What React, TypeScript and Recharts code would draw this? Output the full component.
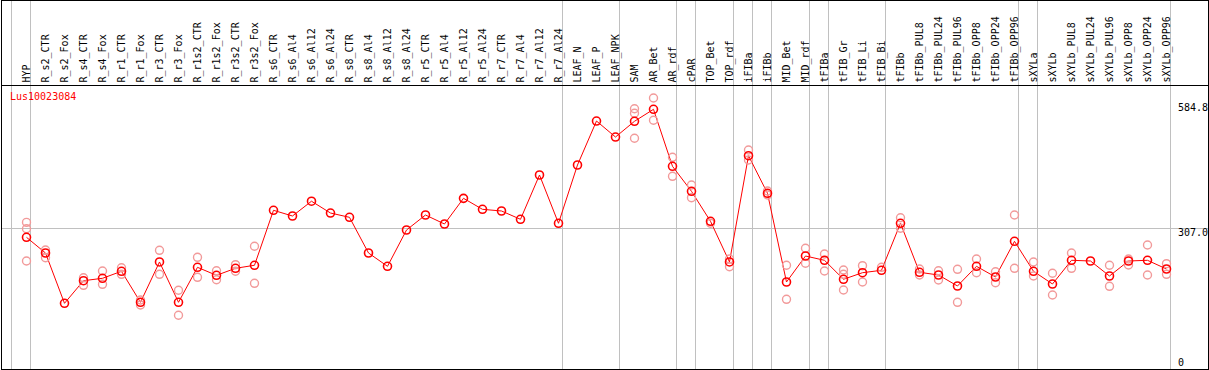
import React from "react";
import {ComposedChart, Line, Scatter, XAxis, YAxis, ReferenceLine} from "recharts";

// sample names along the top
const CATEGORIES = [
	"HYP", "R_s2_CTR", "R_s2_Fox", "R_s4_CTR", "R_s4_Fox", "R_r1_CTR", "R_r1_Fox", "R_r3_CTR", "R_r3_Fox",
	"R_r1s2_CTR", "R_r1s2_Fox", "R_r3s2_CTR", "R_r3s2_Fox", "R_s6_CTR", "R_s6_Al4", "R_s6_Al12", "R_s6_Al24",
	"R_s8_CTR", "R_s8_Al4", "R_s8_Al12", "R_s8_Al24", "R_r5_CTR", "R_r5_Al4", "R_r5_Al12", "R_r5_Al24",
	"R_r7_CTR", "R_r7_Al4", "R_r7_Al12", "R_r7_Al24", "LEAF_N", "LEAF_P", "LEAF_NPK", "SAM", "AR_Bet", "AR_rdf",
	"cPAR", "TOP_Bet", "TOP_rdf", "iFIBa", "iFIBb", "MID_Bet", "MID_rdf", "tFIBa", "tFIB_Gr", "tFIB_Li", "tFIB_Bi",
	"tFIBb", "tFIBb_PUL8", "tFIBb_PUL24", "tFIBb_PUL96", "tFIBb_OPP8", "tFIBb_OPP24", "tFIBb_OPP96",
	"sXYLa", "sXYLb", "sXYLb_PUL8", "sXYLb_PUL24", "sXYLb_PUL96", "sXYLb_OPP8", "sXYLb_OPP24", "sXYLb_OPP96",
];

// mean expression per sample
const MEAN = [
	286.9, 252.2, 140.9, 190.9, 196.2, 211.7, 143.1, 232.3, 143.1, 220.5, 202.8, 218.3, 225.0,
	346.6, 334.0, 366.7, 340.6, 331.1, 252.2, 222.7, 303.0, 336.2, 316.3, 373.1, 348.8, 345.1, 326.7, 424.7, 317.9,
	446.8, 544.1, 508.7, 543.5, 570.0, 443.9, 388.6, 322.3, 232.3, 467.4, 384.2, 188.0, 245.5, 236.0, 194.0, 208.6,
	213.9, 317.9, 209.5, 203.5, 179.2, 222.7, 199.1, 278.0, 211.7, 183.6, 236.0, 234.5, 201.3, 234.5, 236.0, 216.8,
];

// replicates (null = none shown)
const REP1 = [
	320.0, 258.8, null, 197.5, 212.3, 219.6, 148.2, 258.1, 169.7, 242.6, 213.0, 226.3, 267.0,
	null, null, null, null, null, null, null, null, null, null, null, null, null, null, null, null,
	null, null, null, 571.3, 595.0, 463.8, 402.6, 317.9, 238.9, 480.0, 389.3, 225.0, 262.6, 249.9, 214.6, 224.1,
	220.5, 330.2, 216.8, 213.0, 216.1, 238.9, 210.8, 336.2, 232.3, 207.3, 252.2, null, 225.0, 238.9, 269.9, 228.5,
];
const REP2 = [
	305.9, 241.8, null, 180.7, 182.9, 205.0, 137.1, 205.0, 114.4, 198.4, 193.1, 211.7, 185.1,
	null, null, null, null, null, null, null, null, null, null, null, null, null, null, null, null,
	null, null, null, 561.2, 545.7, 421.8, 374.5, null, 221.9, 457.9, 380.4, 149.7, 229.4, 212.3, 205.0, 188.0,
	null, 306.8, 203.5, 192.4, 143.1, 208.6, 186.5, 218.3, 201.3, 159.3, 218.3, null, 178.5, 225.6, 203.5, 205.0,
];
const REP3 = [
	234.5, null, null, null, null, null, null, null, null, null, null, null, null,
	null, null, null, null, null, null, null, null, null, null, null, null, null, null, null, null,
	null, null, null, 505.9, null, null, null, null, null, null, null, null, null, null, 170.3, null,
	null, null, null, null, null, null, null, null, null, null, null, null, null, null, null, null,
];

const Y_TICKS = [0, 307.0, 584.8];
// last sample index of each group (grey separators), -1 = line before the first sample
const GROUP_ENDS = [-1, 0, 28, 31, 34, 35, 37, 38, 39, 41, 42, 45, 52, 53, 60];

const W = 1209;
const H = 370;
const X_DOMAIN = [-1.342, 62.237];
const Y_DOMAIN = [-6.64, 811.8];
const HEADER_LINE = 622.6;
const FONT = "'DejaVu Sans Mono', monospace";

const rows = CATEGORIES.map((name, i) => ({i, name, mean: MEAN[i], r1: REP1[i], r2: REP2[i], r3: REP3[i]}));

const HeaderTick = (props: any) => {
	const {x, payload} = props;
	return (
		<text
			transform={`translate(${x},82.5) rotate(-90)`}
			dy='0.35em'
			fontSize={10}
			fontFamily={FONT}
			fill='#000'
			textAnchor='start'
		>
			{CATEGORIES[payload.value]}
		</text>
	);
};

const ValueTick = (props: any) => {
	const {y, payload} = props;
	const v = payload.value;
	const cy = Math.min(y + 4.5, 362);
	return (
		<text
			x={1178}
			y={cy}
			dominantBaseline='central'
			fontSize={10}
			fontFamily={FONT}
			fill='#000'
			textAnchor='start'
		>
			{v === 0 ? "0" : v.toFixed(1)}
		</text>
	);
};

const MeanDot = (props: any) => {
	const {cx, cy} = props;
	if (cx == null || cy == null) return null;
	return <circle cx={cx} cy={cy} r={4} fill='none' stroke='#ff0000' strokeWidth={1.6} />;
};

const RepDot = (props: any) => {
	const {cx, cy} = props;
	if (cx == null || cy == null) return null;
	return <circle cx={cx} cy={cy} r={4} fill='none' stroke='#f29a9a' strokeWidth={1.4} />;
};

export default function App() {
	return (
		<div style={{position: "absolute", left: 0, top: 0, width: W, height: H, background: "#fff"}}>
			<ComposedChart
				width={W}
				height={H}
				data={rows}
				margin={{left: 1, right: 0, top: 0, bottom: 0}}
			>
				<XAxis
					dataKey='i'
					type='number'
					orientation='top'
					mirror
					height={30}
					domain={X_DOMAIN}
					allowDataOverflow
					ticks={rows.map((r) => r.i)}
					interval={0}
					tick={<HeaderTick />}
					axisLine={false}
					tickLine={false}
				/>
				<YAxis
					type='number'
					orientation='right'
					mirror
					width={40}
					domain={Y_DOMAIN}
					allowDataOverflow
					ticks={Y_TICKS}
					interval={0}
					tick={<ValueTick />}
					axisLine={false}
					tickLine={false}
				/>
				{GROUP_ENDS.map((k) => (
					<ReferenceLine
						key={"sep" + k}
						x={k + 0.2105}
						stroke='#c0c0c0'
						strokeWidth={1}
						shapeRendering='crispEdges'
						ifOverflow='visible'
					/>
				))}
				<ReferenceLine y={307} stroke='#c0c0c0' strokeWidth={1} shapeRendering='crispEdges' ifOverflow='visible' />
				<ReferenceLine y={HEADER_LINE} stroke='#000' strokeWidth={1} shapeRendering='crispEdges' ifOverflow='visible' />
				<Scatter data={rows.filter((r) => r.r1 != null)} dataKey='r1' shape={<RepDot />} isAnimationActive={false} />
				<Scatter data={rows.filter((r) => r.r2 != null)} dataKey='r2' shape={<RepDot />} isAnimationActive={false} />
				<Scatter data={rows.filter((r) => r.r3 != null)} dataKey='r3' shape={<RepDot />} isAnimationActive={false} />
				<Line
					type='linear'
					dataKey='mean'
					stroke='#ff0000'
					strokeWidth={1}
					dot={<MeanDot />}
					activeDot={false}
					isAnimationActive={false}
				/>
			</ComposedChart>
			<div
				style={{
					position: "absolute",
					left: 10,
					top: 91,
					fontFamily: FONT,
					fontSize: 10,
					color: "#ff0000",
					lineHeight: "12px",
				}}
			>
				Lus10023084
			</div>
			<div
				style={{
					position: "absolute",
					left: 1,
					top: 0,
					width: 1208,
					height: H,
					boxSizing: "border-box",
					border: "1px solid #000",
					pointerEvents: "none",
				}}
			/>
		</div>
	);
}
